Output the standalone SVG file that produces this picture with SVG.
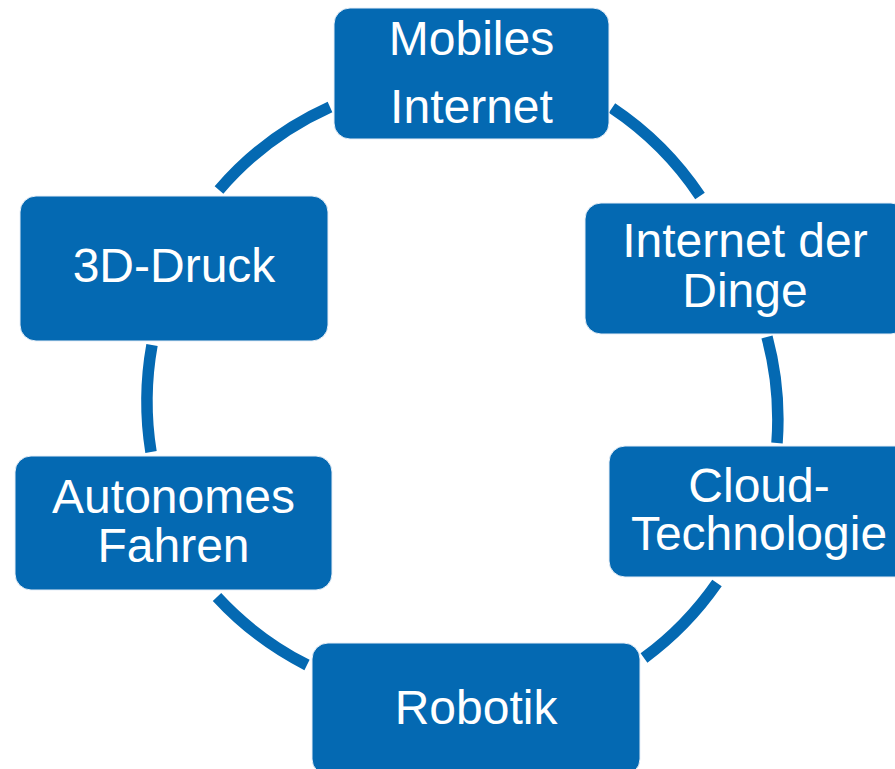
<svg xmlns="http://www.w3.org/2000/svg" width="895" height="769" viewBox="0 0 895 769">
<style>
.box{fill:#0469b2;stroke:#e6eef7;stroke-width:1}
.lbl{font-family:"Liberation Sans",Arial,sans-serif;font-size:48px;fill:#ffffff;text-anchor:middle}
.arc{fill:none;stroke:#0469b2;stroke-width:11.5;stroke-linecap:butt}
</style>
<rect width="895" height="769" fill="#ffffff"/>
<g id="connectors">
<path class="arc" d="M612,108 A318,318 0 0 1 700,196"/>
<path class="arc" d="M767,337 A318,318 0 0 1 777,443"/>
<path class="arc" d="M717,583 A318,318 0 0 1 644,658"/>
<path class="arc" d="M307,665 A318,318 0 0 1 217,597"/>
<path class="arc" d="M151,452 A318,318 0 0 1 152,345"/>
<path class="arc" d="M219,190 A318,318 0 0 1 330,107"/>
</g>
<g id="mobiles-internet">
<rect class="box" x="334" y="8" width="275" height="131" rx="16"/>
<text class="lbl" x="471.5" y="55">Mobiles</text>
<text class="lbl" x="471.5" y="123">Internet</text>
</g>
<g id="internet-der-dinge">
<rect class="box" x="585" y="203" width="322" height="131" rx="16"/>
<text class="lbl" x="745" y="257">Internet der</text>
<text class="lbl" x="745" y="307">Dinge</text>
</g>
<g id="cloud-technologie">
<rect class="box" x="609" y="446" width="302" height="131" rx="16"/>
<text class="lbl" x="759" y="502">Cloud-</text>
<text class="lbl" x="759" y="550">Technologie</text>
</g>
<g id="robotik">
<rect class="box" x="312" y="643" width="328" height="132" rx="16"/>
<text class="lbl" x="476" y="724">Robotik</text>
</g>
<g id="autonomes-fahren">
<rect class="box" x="15" y="456" width="317" height="134" rx="16"/>
<text class="lbl" x="173.5" y="513">Autonomes</text>
<text class="lbl" x="173.5" y="562">Fahren</text>
</g>
<g id="3d-druck">
<rect class="box" x="20" y="196" width="308" height="145" rx="16"/>
<text class="lbl" x="174" y="282">3D-Druck</text>
</g>
</svg>
